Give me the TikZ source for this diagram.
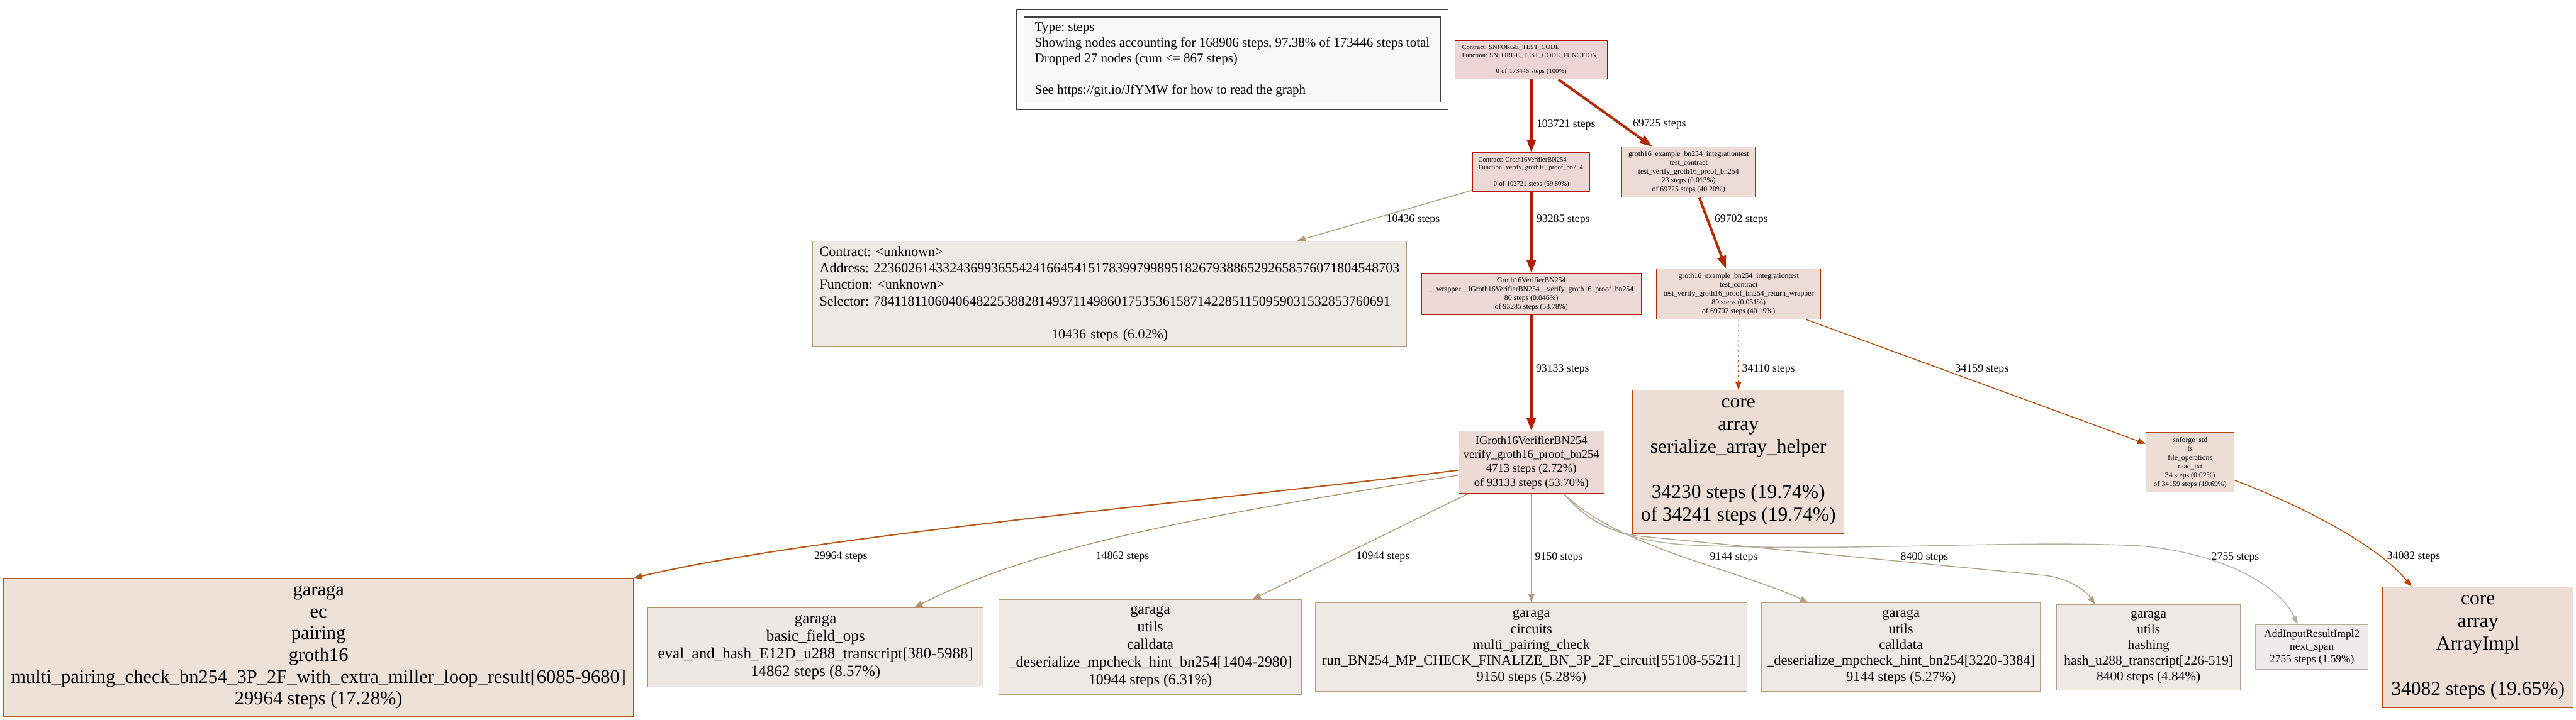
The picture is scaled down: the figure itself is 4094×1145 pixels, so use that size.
\documentclass[tikz,border=0pt]{standalone}
\usepackage{fontspec}
\setmainfont{Liberation Serif}
\usepackage{tikz}
\usetikzlibrary{arrows.meta}
\frenchspacing

\definecolor{legendbg}{HTML}{F8F8F8}
\definecolor{fill100}{HTML}{EDD5D5}
\definecolor{fill60}{HTML}{EDD8D5}
\definecolor{fill54}{HTML}{EDD9D5}
\definecolor{fill40}{HTML}{EDDBD5}
\definecolor{fill20}{HTML}{EDDED5}
\definecolor{fill17}{HTML}{EDE1D8}
\definecolor{fill9}{HTML}{EDE8E3}
\definecolor{fill6}{HTML}{EDE9E5}
\definecolor{fill5}{HTML}{EDEAE6}
\definecolor{fill2}{HTML}{EDECEB}
\definecolor{line100}{HTML}{B20000}
\definecolor{line60}{HTML}{B21900}
\definecolor{line54}{HTML}{B21E00}
\definecolor{line40}{HTML}{B22A00}
\definecolor{line20}{HTML}{B24602}
\definecolor{line17}{HTML}{B25718}
\definecolor{line9}{HTML}{B28D66}
\definecolor{line6}{HTML}{B2997A}
\definecolor{line5}{HTML}{B29F83}
\definecolor{line2}{HTML}{B2AEA4}

\newcommand{\fsz}[2]{\fontsize{#1}{#2}\selectfont}
\newcommand{\lrow}[1]{\makebox[\linewidth][l]{#1}}

\tikzset{>={Triangle[length=13pt,width=9.5pt]},
	gvbox/.style={draw,rectangle,line width=1.4pt,inner sep=0pt,anchor=north west,align=center},
	thinedge/.style={line width=1.4pt,->},
	fatedge/.style={line width=4pt,-{Triangle[length=20pt,width=14pt]}}}
\tikzstyle{steplbl}=[anchor=west,inner sep=0pt,font=\fsz{17.8}{21}]

\begin{document}
\begin{tikzpicture}[x=1pt,y=-1pt]
	\useasboundingbox (0,0) rectangle (4094,1145);
	\node[gvbox,draw=black!75,fill=legendbg,double=white,double distance=10.6pt,
		minimum width=673.5pt,minimum height=147.5pt,align=left,font=\fsz{21}{25}] (legend) at (1621,20.5)
		{Type: steps\\Showing nodes accounting for 168906 steps, 97.38\% of 173446 steps total\\
		Dropped 27 nodes (cum <= 867 steps)\\[25pt]See https://git.io/JfYMW for how to read the graph};
	
	\node[gvbox,fill=fill100,draw=line100,minimum width=242pt,minimum height=61pt,text width=220pt,font=\fsz{10.5}{12.7}] (forge) at (2312,64)
		{\lrow{Contract: SNFORGE\_TEST\_CODE}\\\lrow{Function: SNFORGE\_TEST\_CODE\_FUNCTION}\\[12.7pt]0 of 173446 steps (100\%)};
	\node[gvbox,fill=fill60,draw=line60,minimum width=186pt,minimum height=62pt,text width=168pt,font=\fsz{10.5}{12.7}] (vcontract) at (2340,242)
		{\lrow{Contract: Groth16VerifierBN254}\\\lrow{Function: verify\_groth16\_proof\_bn254}\\[12.7pt]0 of 103721 steps (59.80\%)};
	\node[gvbox,fill=fill40,draw=line40,minimum width=212pt,minimum height=80pt,font=\fsz{11.8}{14}] (itest) at (2577,233)
		{groth16\_example\_bn254\_integrationtest\\test\_contract\\test\_verify\_groth16\_proof\_bn254\\23 steps (0.013\%)\\of 69725 steps (40.20\%)};
	\node[gvbox,fill=fill6,draw=line6,minimum width=944pt,minimum height=168pt,text width=922pt,font=\fsz{22}{26.3}] (unknown) at (1291,383)
		{\lrow{Contract: <unknown>}\\
		\lrow{Address: 2236026143324369936554241664541517839979989518267938865292658576071804548703}\\
		\lrow{Function: <unknown>}\\
		\lrow{Selector: 784118110604064822538828149371149860175353615871422851150959031532853760691}\\[26.3pt]
		10436 steps (6.02\%)};
	\node[gvbox,fill=fill54,draw=line54,minimum width=349pt,minimum height=66pt,font=\fsz{11.8}{14}] (vwrapper) at (2258.5,434)
		{Groth16VerifierBN254\\\_\_wrapper\_\_IGroth16VerifierBN254\_\_verify\_groth16\_proof\_bn254\\80 steps (0.046\%)\\of 93285 steps (53.78\%)};
	\node[gvbox,fill=fill40,draw=line40,minimum width=261pt,minimum height=80pt,font=\fsz{11.8}{14}] (retwrap) at (2632,427)
		{groth16\_example\_bn254\_integrationtest\\test\_contract\\test\_verify\_groth16\_proof\_bn254\_return\_wrapper\\89 steps (0.051\%)\\of 69702 steps (40.19\%)};
	\node[gvbox,fill=fill20,draw=line20,minimum width=336pt,minimum height=228pt,font=\fsz{31.5}{36}] (serial) at (2594,620)
		{core\\array\\serialize\_array\_helper\\[36pt]34230 steps (19.74\%)\\of 34241 steps (19.74\%)};
	\node[gvbox,fill=fill54,draw=line54,minimum width=231pt,minimum height=99pt,font=\fsz{18.5}{22.3}] (vproof) at (2317.5,685)
		{IGroth16VerifierBN254\\verify\_groth16\_proof\_bn254\\4713 steps (2.72\%)\\of 93133 steps (53.70\%)};
	\node[gvbox,fill=fill20,draw=line20,minimum width=140pt,minimum height=95pt,font=\fsz{11.8}{14}] (readtxt) at (3410,687)
		{snforge\_std\\fs\\file\_operations\\read\_txt\\34 steps (0.02\%)\\of 34159 steps (19.69\%)};
	\node[gvbox,fill=fill20,draw=line20,minimum width=303pt,minimum height=192pt,font=\fsz{31.5}{36}] (arrimpl) at (3786,933)
		{core\\array\\ArrayImpl\\[36pt]34082 steps (19.65\%)};
	\node[gvbox,fill=fill2,draw=line2,minimum width=179pt,minimum height=71pt,font=\fsz{17.3}{20}] (addinput) at (3584,993)
		{AddInputResultImpl2\\next\_span\\2755 steps (1.59\%)};
	\node[gvbox,fill=fill17,draw=line17,minimum width=1001pt,minimum height=220pt,font=\fsz{30.5}{34.6}] (pairing) at (5,919)
		{garaga\\ec\\pairing\\groth16\\multi\_pairing\_check\_bn254\_3P\_2F\_with\_extra\_miller\_loop\_result[6085-9680]\\29964 steps (17.28\%)};
	\node[gvbox,fill=fill9,draw=line9,minimum width=533pt,minimum height=126pt,font=\fsz{25}{28.3}] (fieldops) at (1029,966)
		{garaga\\basic\_field\_ops\\eval\_and\_hash\_E12D\_u288\_transcript[380-5988]\\14862 steps (8.57\%)};
	\node[gvbox,fill=fill6,draw=line6,minimum width=481pt,minimum height=151pt,font=\fsz{23.8}{28}] (hinta) at (1587,953)
		{garaga\\utils\\calldata\\\_deserialize\_mpcheck\_hint\_bn254[1404-2980]\\10944 steps (6.31\%)};
	\node[gvbox,fill=fill5,draw=line5,minimum width=686pt,minimum height=141pt,font=\fsz{22.5}{25.3}] (finalize) at (2090,958)
		{garaga\\circuits\\multi\_pairing\_check\\run\_BN254\_MP\_CHECK\_FINALIZE\_BN\_3P\_2F\_circuit[55108-55211]\\9150 steps (5.28\%)};
	\node[gvbox,fill=fill5,draw=line5,minimum width=443pt,minimum height=141pt,font=\fsz{22.5}{25.3}] (hintb) at (2799,958)
		{garaga\\utils\\calldata\\\_deserialize\_mpcheck\_hint\_bn254[3220-3384]\\9144 steps (5.27\%)};
	\node[gvbox,fill=fill5,draw=line5,minimum width=292pt,minimum height=136pt,font=\fsz{21.3}{25}] (hashing) at (3268,961)
		{garaga\\utils\\hashing\\hash\_u288\_transcript[226-519]\\8400 steps (4.84\%)};
	
	\draw[fatedge,draw=line60] (forge.south) -- (vcontract.north) node[steplbl] at (2440,198) {103721 steps};
	\draw[fatedge,draw=line40] ([xshift=43pt]forge.south) -- ([xshift=-58pt]itest.north) node[steplbl] at (2593,198) {69725 steps};
	\draw[thinedge,draw=line6] ([yshift=3pt]vcontract.south west) -- ([xshift=298pt]unknown.north) node[steplbl] at (2203,349) {10436 steps};
	\draw[fatedge,draw=line54] (vcontract.south) -- (vwrapper.north) node[steplbl] at (2440,349) {93285 steps};
	\draw[fatedge,draw=line40] ([xshift=17pt]itest.south) -- ([xshift=-20pt]retwrap.north) node[steplbl] at (2723,349) {69702 steps};
	\draw[fatedge,draw=line54] (vwrapper.south) -- (vproof.north) node[steplbl] at (2439,587) {93133 steps};
	\draw[thinedge,draw=line20,dash pattern=on 3pt off 5pt] (retwrap.south) -- (serial.north) node[steplbl] at (2768,587) {34110 steps};
	\draw[thinedge,draw=line20] ([xshift=108pt]retwrap.south) -- ([yshift=29.5pt]readtxt.west) node[steplbl] at (3107,587) {34159 steps};
	\draw[thinedge,draw=line20] ([yshift=-28.5pt]readtxt.east) .. controls (3660,805) and (3780,868) .. ([xshift=-105.5pt]arrimpl.north)
		node[steplbl] at (3793,885) {34082 steps};
	\draw[thinedge,line width=2pt,draw=line17] ([yshift=-12.5pt]vproof.west) .. controls (1900,800) and (1300,850) .. (pairing.north east)
		node[steplbl] at (1293,885) {29964 steps};
	\draw[thinedge,draw=line9] ([yshift=-20.5pt]vproof.west) .. controls (1918,819) and (1652,865) .. ([xshift=157pt]fieldops.north)
		node[steplbl] at (1741,885) {14862 steps};
	\draw[thinedge,draw=line6] ([xshift=15pt]vproof.south west) -- ([xshift=162.5pt]hinta.north) node[steplbl] at (2155,885) {10944 steps};
	\draw[thinedge,draw=line5] (vproof.south) -- (finalize.north) node[steplbl] at (2439,886) {9150 steps};
	\draw[thinedge,draw=line5] ([xshift=-64pt]vproof.south east) .. controls (2570,870) and (2760,905) .. ([xshift=-147.5pt]hintb.north)
		node[steplbl] at (2717,886) {9144 steps};
	\draw[thinedge,draw=line5] ([xshift=-64pt]vproof.south east) .. controls (2525,830) and (2555,843) .. (2600,852) -- (3250,915)
		.. controls (3290,920) and (3315,940) .. ([xshift=-85pt]hashing.north) node[steplbl] at (3020,886) {8400 steps};
	\draw[thinedge,draw=line2] ([xshift=-64pt]vproof.south east) .. controls (2525,835) and (2590,862) .. (2690,867)
		.. controls (2950,878) and (3200,858) .. (3400,868) .. controls (3520,878) and (3620,925) .. ([xshift=-22.5pt]addinput.north)
		node[steplbl] at (3514,886) {2755 steps};
\end{tikzpicture}
\end{document}
